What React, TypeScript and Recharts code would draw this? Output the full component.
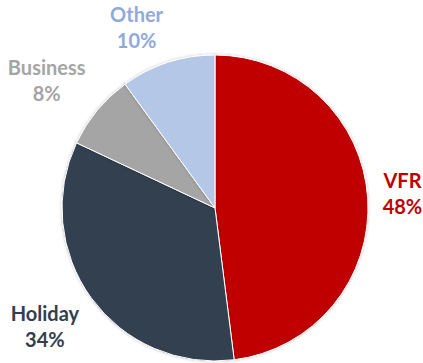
import React from "react";
import { PieChart, Pie, Cell } from "recharts";

const categories = ["VFR", "Holiday", "Business", "Other"];
const shares = [48, 34, 8, 10];
const sliceColors = ["#C00000", "#333F50", "#A5A5A5", "#B4C7E7"];
const labelColors = ["#C00000", "#333F50", "#A5A5A5", "#8FAADC"];

const data = categories.map((name, i) => ({ name, value: shares[i] }));

const FONT = "Lato, 'Open Sans', sans-serif";
const FONT_SIZE = 20;
const LINE_H = 26;
const CAP = 14;
const GAP = 15;

let ctx: CanvasRenderingContext2D | null = null;
function measure(text: string): number {
  if (!ctx) {
    const c = document.createElement("canvas");
    ctx = c.getContext("2d");
  }
  if (!ctx) return text.length * FONT_SIZE * 0.55;
  ctx.font = `bold ${FONT_SIZE}px ${FONT}`;
  return ctx.measureText(text).width;
}

const RAD = Math.PI / 180;
const clamp = (v: number) => Math.max(-1, Math.min(1, v));

function renderLabel(props: any) {
  const { cx, cy, midAngle, outerRadius, index, name, value } = props;
  const ux = Math.cos(-midAngle * RAD);
  const uy = Math.sin(-midAngle * RAD);
  const r = outerRadius + GAP;
  const px = cx + r * ux;
  const py = cy + r * uy;
  const line1 = String(name);
  const line2 = `${value}%`;
  const w = Math.max(measure(line1), measure(line2));
  const h = LINE_H + CAP;
  const fx = clamp(ux * 4);
  const fy = clamp(uy * 3);
  const centerX = px + (fx * w) / 2;
  const centerY = py + (fy * h) / 2;
  const base1 = centerY - h / 2 + CAP;
  return (
    <text
      key={`lbl-${index}`}
      textAnchor="middle"
      fill={labelColors[index]}
      fontFamily={FONT}
      fontWeight={700}
      fontSize={FONT_SIZE}
    >
      <tspan x={centerX} y={base1}>{line1}</tspan>
      <tspan x={centerX} y={base1 + LINE_H}>{line2}</tspan>
    </text>
  );
}

export default function App() {
  return (
    <div style={{ position: "absolute", left: 0, top: 0, background: "#fff" }}>
      <PieChart width={423} height={363} margin={{ top: 0, right: 0, bottom: 0, left: 0 }}>
        <defs>
          <filter id="pieShadow" x="-10%" y="-10%" width="120%" height="120%">
            <feDropShadow dx="0" dy="0" stdDeviation="1.5" floodColor="#000" floodOpacity="0.25" />
          </filter>
        </defs>
        <Pie
          data={data}
          dataKey="value"
          nameKey="name"
          cx={215}
          cy={208}
          outerRadius={153}
          startAngle={90}
          endAngle={-270}
          stroke="#ffffff"
          strokeWidth={1}
          label={renderLabel}
          labelLine={false}
          isAnimationActive={false}
          style={{ filter: "url(#pieShadow)" }}
        >
          {data.map((d, i) => (
            <Cell key={d.name} fill={sliceColors[i]} />
          ))}
        </Pie>
      </PieChart>
    </div>
  );
}
